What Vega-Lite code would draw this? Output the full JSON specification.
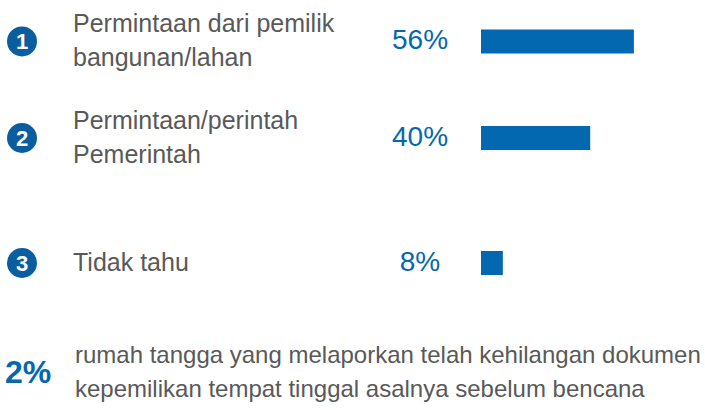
{
  "$schema": "https://vega.github.io/schema/vega-lite/v6.json",
  "width": 705,
  "height": 410,
  "autosize": {"type": "fit", "contains": "padding"},
  "padding": 0,
  "background": "white",
  "config": {
    "view": {"stroke": null},
    "text": {"font": "Liberation Sans, Arial, sans-serif"}
  },
  "datasets": {
    "items": [
      {"rank": 1, "num": "1", "label": "Permintaan dari pemilik\nbangunan/lahan", "pct": 0.56},
      {"rank": 2, "num": "2", "label": "Permintaan/perintah\nPemerintah", "pct": 0.40},
      {"rank": 3, "num": "3", "label": "Tidak tahu", "pct": 0.08}
    ],
    "note": [
      {"pct": 0.02, "text": "rumah tangga yang melaporkan telah kehilangan dokumen\nkepemilikan tempat tinggal asalnya sebelum bencana"}
    ]
  },
  "layer": [
    {
      "data": {"name": "items"},
      "mark": {"type": "bar", "color": "#0468B1", "height": 24},
      "encoding": {
        "x": {"field": "pct", "type": "quantitative", "axis": null, "scale": {"domain": [-3, -2, -1, 0, 1], "range": [22, 73, 420, 481, 754], "nice": false, "zero": false}},
        "x2": {"datum": 0},
        "y": {"field": "rank", "type": "quantitative", "axis": null, "scale": {"domain": [1, 2, 3, 4], "range": [37, 138, 263, 376], "nice": false, "zero": false}}
      }
    },
    {
      "data": {"name": "items"},
      "mark": {"type": "point", "shape": "circle", "filled": true, "opacity": 1, "size": 900, "color": "#0A5E9F"},
      "encoding": {
        "x": {"datum": -3, "type": "quantitative"},
        "y": {"field": "rank", "type": "quantitative"}
      }
    },
    {
      "data": {"name": "items"},
      "mark": {"type": "text", "color": "white", "fontWeight": "bold", "fontSize": 22, "align": "center", "baseline": "middle", "dy": 1},
      "encoding": {
        "x": {"datum": -3, "type": "quantitative"},
        "y": {"field": "rank", "type": "quantitative"},
        "text": {"field": "num", "type": "nominal"}
      }
    },
    {
      "data": {"name": "items"},
      "transform": [{"filter": {"field": "rank", "lte": 2}}],
      "mark": {"type": "text", "color": "#595959", "fontSize": 25, "align": "left", "baseline": "middle", "lineBreak": "\n", "lineHeight": 34, "dy": -17},
      "encoding": {
        "x": {"datum": -2, "type": "quantitative"},
        "y": {"field": "rank", "type": "quantitative"},
        "text": {"field": "label", "type": "nominal"}
      }
    },
    {
      "data": {"name": "items"},
      "transform": [{"filter": {"field": "rank", "gt": 2}}],
      "mark": {"type": "text", "color": "#595959", "fontSize": 25, "align": "left", "baseline": "middle"},
      "encoding": {
        "x": {"datum": -2, "type": "quantitative"},
        "y": {"field": "rank", "type": "quantitative"},
        "text": {"field": "label", "type": "nominal"}
      }
    },
    {
      "data": {"name": "items"},
      "mark": {"type": "text", "color": "#0468B1", "fontSize": 28, "align": "center", "baseline": "middle"},
      "encoding": {
        "x": {"datum": -1, "type": "quantitative"},
        "y": {"field": "rank", "type": "quantitative"},
        "text": {"field": "pct", "type": "quantitative", "format": ".0%"}
      }
    },
    {
      "data": {"name": "note"},
      "mark": {"type": "text", "color": "#0468B1", "fontSize": 32, "fontWeight": "bold", "align": "center", "baseline": "middle", "dx": 6, "dy": 2},
      "encoding": {
        "x": {"datum": -3, "type": "quantitative"},
        "y": {"datum": 4, "type": "quantitative"},
        "text": {"field": "pct", "type": "quantitative", "format": ".0%"}
      }
    },
    {
      "data": {"name": "note"},
      "mark": {"type": "text", "color": "#595959", "fontSize": 24, "align": "left", "baseline": "middle", "lineBreak": "\n", "lineHeight": 34, "dx": 2, "dy": -15},
      "encoding": {
        "x": {"datum": -2, "type": "quantitative"},
        "y": {"datum": 4, "type": "quantitative"},
        "text": {"field": "text", "type": "nominal"}
      }
    }
  ]
}
